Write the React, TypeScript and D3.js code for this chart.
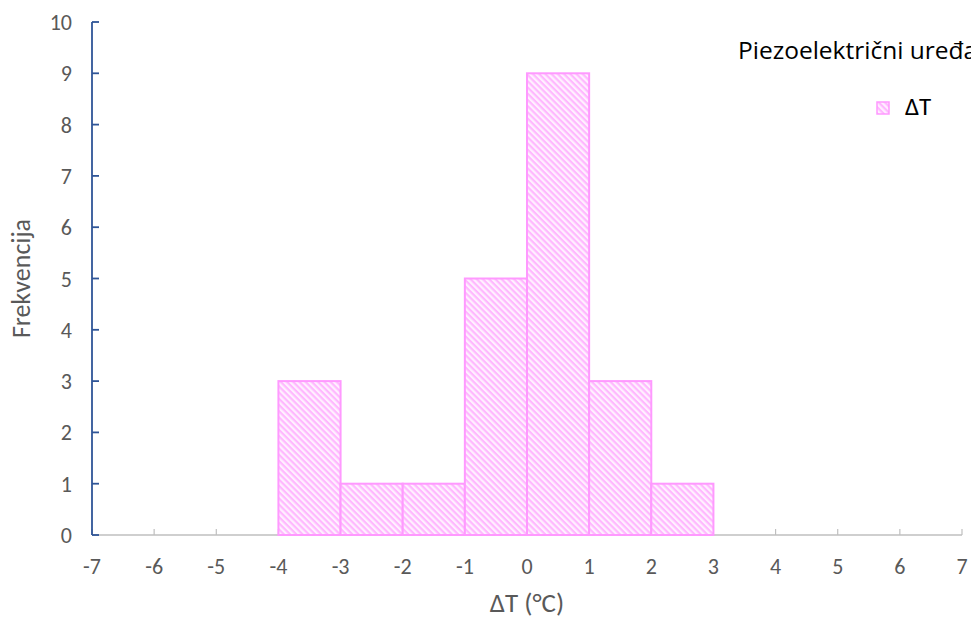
import React from "react";
import * as d3 from "d3";

const binStarts = [-4, -3, -2, -1, 0, 1, 2];
const binEnds = [-3, -2, -1, 0, 1, 2, 3];
const counts = [3, 1, 1, 5, 9, 3, 1];
const xTicks = [-7, -6, -5, -4, -3, -2, -1, 0, 1, 2, 3, 4, 5, 6, 7];
const yTicks = [0, 1, 2, 3, 4, 5, 6, 7, 8, 9, 10];
const legendTitle = "Piezoelektrični uređaj";
const seriesName = "ΔT";
const xTitle = "ΔT (°C)";
const yTitle = "Frekvencija";

const W = 971;
const H = 621;
const font = "Calibri, Carlito, Lato, 'Open Sans', sans-serif";
const wideFont = "'Open Sans', Lato, sans-serif";

export default function App() {
  const x = d3.scaleLinear().domain([-7, 7]).range([92, 962]);
  const y = d3.scaleLinear().domain([0, 10]).range([535, 22]);
  return (
    <svg width={W} height={H} style={{ position: "absolute", left: 0, top: 0 }}>
      <defs>
        <pattern id="hatch" width="4.4" height="4.4" patternUnits="userSpaceOnUse" patternTransform="rotate(45)">
          <rect width="4.4" height="4.4" fill="#fff0ff" />
          <rect x="0" y="0" width="4.4" height="2.2" fill="#ffb8ff" />
        </pattern>
      </defs>
      <rect width={W} height={H} fill="#fff" />
      {/* x axis */}
      <line x1={x(-7)} x2={x(7)} y1={y(0)} y2={y(0)} stroke="#bfbfbf" strokeWidth={1.5} />
      {xTicks.map((t) => (
        <g key={"xt" + t}>
          <line x1={x(t)} x2={x(t)} y1={y(0)} y2={y(0) - 6} stroke="#bfbfbf" strokeWidth={1.2} />
          <text x={x(t)} y={574} textAnchor="middle" fontFamily={font} fontSize={22} fill="#595959">
            {t}
          </text>
        </g>
      ))}
      {/* bars */}
      {counts.map((c, i) => (
        <rect
          key={"b" + i}
          x={x(binStarts[i])}
          y={y(c)}
          width={x(binEnds[i]) - x(binStarts[i])}
          height={y(0) - y(c)}
          fill="url(#hatch)"
          stroke="#ff99ff"
          strokeWidth={2}
        />
      ))}
      {/* y axis */}
      <line x1={x(-7)} x2={x(-7)} y1={y(0)} y2={y(10)} stroke="#2f5597" strokeWidth={1.8} />
      {yTicks.map((t) => (
        <g key={"yt" + t}>
          <line x1={x(-7)} x2={x(-7) + 7} y1={y(t)} y2={y(t)} stroke="#2f5597" strokeWidth={1.8} />
          <text x={72} y={y(t) + 8} textAnchor="end" fontFamily={font} fontSize={22} fill="#595959">
            {t}
          </text>
        </g>
      ))}
      {/* titles */}
      <text x={527} y={612} textAnchor="middle" fontFamily={font} fontSize={27} fill="#595959">
        {xTitle}
      </text>
      <text
        transform={`translate(30, ${y(5)}) rotate(-90)`}
        textAnchor="middle"
        fontFamily={font}
        fontSize={26}
        fill="#595959"
      >
        {yTitle}
      </text>
      {/* legend */}
      <text x={738} y={59} fontFamily={wideFont} fontSize={24.5} fill="#000">
        {legendTitle}
      </text>
      <rect x={877} y={102} width={12} height={12} fill="url(#hatch)" stroke="#ff99ff" strokeWidth={1.5} />
      <text x={905} y={115} fontFamily={font} fontSize={25} fill="#000">
        {seriesName}
      </text>
    </svg>
  );
}
